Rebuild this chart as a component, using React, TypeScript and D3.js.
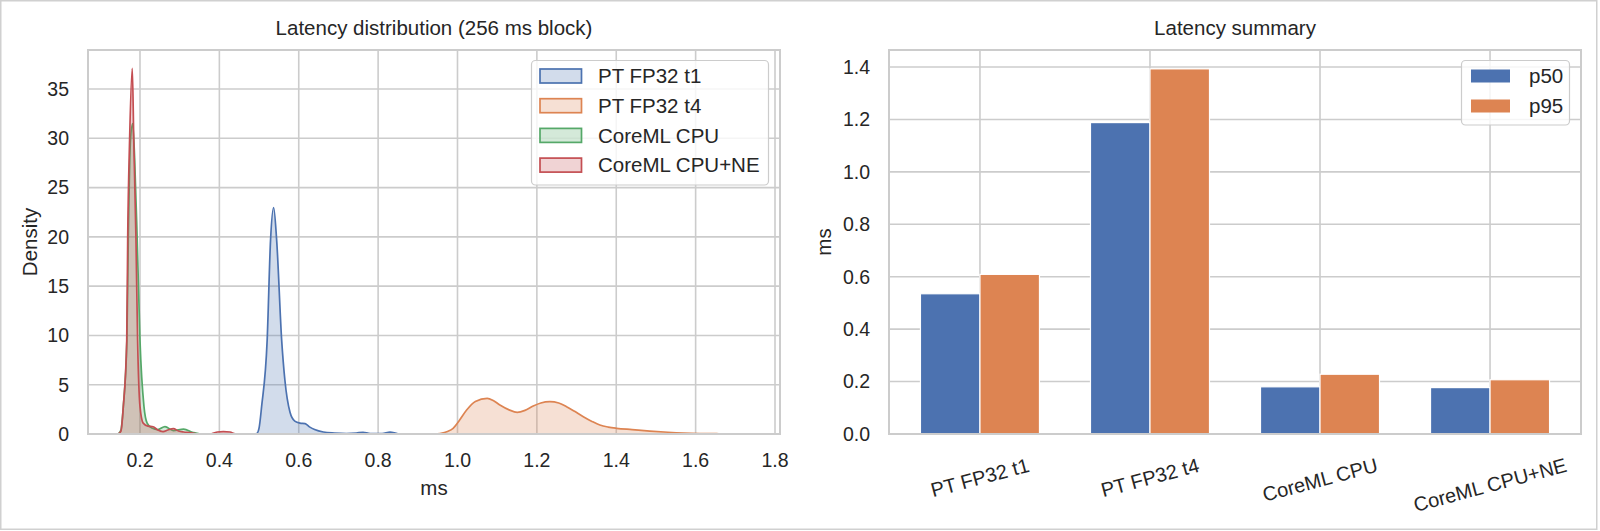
import { useEffect, useRef } from 'react';
import * as d3 from 'd3';

// Density curves: [latency ms, density]
const densityT1: [number, number][] = [
  [0.485, 0], [0.494, 0.05], [0.5, 0.6], [0.5065, 2.8], [0.5204, 9.5], [0.529, 19.7], [0.5367, 22.96],
  [0.5443, 19.7], [0.557, 9.5], [0.565, 5.5], [0.578, 2.2], [0.59, 1.3], [0.603, 1.1], [0.616, 1.05],
  [0.628, 0.7], [0.64, 0.45], [0.662, 0.2], [0.69, 0.1], [0.72, 0.05], [0.745, 0.1], [0.762, 0.18],
  [0.78, 0.05], [0.81, 0.05], [0.83, 0.2], [0.85, 0.02], [0.87, 0],
];
const densityT4: [number, number][] = [
  [0.94, 0], [0.9557, 0.05], [0.975, 0.25], [0.989, 0.58], [1.005, 1.4], [1.023, 2.43], [1.045, 3.3],
  [1.0749, 3.62], [1.09, 3.4], [1.1068, 2.94], [1.13, 2.45], [1.1505, 2.2], [1.17, 2.4], [1.1907, 2.84],
  [1.21, 3.15], [1.2327, 3.28], [1.255, 3.15], [1.2748, 2.77], [1.295, 2.3], [1.317, 1.76], [1.34, 1.25],
  [1.3587, 0.91], [1.38, 0.7], [1.4008, 0.58], [1.44, 0.45], [1.4846, 0.3], [1.53, 0.18], [1.569, 0.1],
  [1.61, 0.05], [1.653, 0.03], [1.7, 0.01], [1.75, 0],
];
const densityCpu: [number, number][] = [
  [0.145, 0], [0.152, 0.4], [0.158, 2.8], [0.167, 9.5], [0.1705, 19.7], [0.176, 29.8], [0.1816, 31.5],
  [0.1865, 28], [0.193, 19.7], [0.2, 9.5], [0.21, 2.8], [0.218, 1.1], [0.23, 0.6], [0.245, 0.45],
  [0.263, 0.75], [0.284, 0.35], [0.31, 0.5], [0.334, 0.15], [0.35, 0.02], [0.37, 0],
];
const densityCpuNe: [number, number][] = [
  [0.145, 0], [0.152, 0.3], [0.158, 2.8], [0.1666, 9.5], [0.169, 19.7], [0.1738, 29.8], [0.1806, 37.1],
  [0.1843, 29.8], [0.1899, 19.7], [0.194, 9.5], [0.2, 2.8], [0.208, 1.1], [0.22, 0.8], [0.233, 0.74],
  [0.245, 0.4], [0.258, 0.25], [0.27, 0.4], [0.284, 0.55], [0.297, 0.3], [0.31, 0.2], [0.325, 0.15],
  [0.343, 0.02], [0.36, 0], [0.38, 0.02], [0.395, 0.2], [0.41, 0.25], [0.427, 0.2], [0.44, 0.02], [0.46, 0],
];

const seriesNames = ['PT FP32 t1', 'PT FP32 t4', 'CoreML CPU', 'CoreML CPU+NE'];
const seriesColors = ['#4C72B0', '#DD8452', '#55A868', '#C44E52'];

// Summary bars
const categories = ['PT FP32 t1', 'PT FP32 t4', 'CoreML CPU', 'CoreML CPU+NE'];
const p50 = [0.535, 1.188, 0.18, 0.177];
const p95 = [0.609, 1.393, 0.228, 0.207];

const densityTicks = [0, 5, 10, 15, 20, 25, 30, 35];
const msTicks = [0.2, 0.4, 0.6, 0.8, 1.0, 1.2, 1.4, 1.6, 1.8];
const summaryTicks = [0, 0.2, 0.4, 0.6, 0.8, 1.0, 1.2, 1.4];

const App = () => {
  const svgRef = useRef<SVGSVGElement | null>(null);

  useEffect(() => {
    const width = 1600;
    const height = 531;
    const top = 50;
    const bottom = 434;
    const grid = '#cccccc';
    const ink = '#262626';
    const font = "'Liberation Sans', Arial, sans-serif";
    const tickSize = 19.5;
    const labelSize = 20.5;

    const svg = d3.select(svgRef.current)
      .attr('width', width)
      .attr('height', height)
      .style('font-family', font);
    svg.selectAll('*').remove();

    svg.append('rect').attr('width', width).attr('height', height).attr('fill', '#fff');
    svg.append('rect')
      .attr('x', 0.75).attr('y', 0.75).attr('width', 1596).attr('height', 528.5)
      .attr('fill', 'none').attr('stroke', '#d0d0d0').attr('stroke-width', 1.5);

    // ---------- left: KDE ----------
    const x = d3.scaleLinear().domain([0.069, 1.8126]).range([88, 780]);
    const y = d3.scaleLinear().domain([0, 38.96]).range([bottom, top]);
    const left = svg.append('g');

    left.selectAll('.vgrid').data(msTicks).join('line')
      .attr('x1', d => x(d)).attr('x2', d => x(d)).attr('y1', top).attr('y2', bottom)
      .attr('stroke', grid).attr('stroke-width', 1.6);
    left.selectAll('.hgrid').data(densityTicks).join('line')
      .attr('x1', 88).attr('x2', 780).attr('y1', d => y(d)).attr('y2', d => y(d))
      .attr('stroke', grid).attr('stroke-width', 1.6);

    const area = d3.area<[number, number]>()
      .x(d => x(d[0])).y0(y(0)).y1(d => y(d[1])).curve(d3.curveMonotoneX);
    const line = d3.line<[number, number]>()
      .x(d => x(d[0])).y(d => y(d[1])).curve(d3.curveMonotoneX);

    [densityT1, densityT4, densityCpu, densityCpuNe].forEach((s, i) => {
      left.append('path').attr('d', area(s)).attr('fill', seriesColors[i]).attr('fill-opacity', 0.25);
      left.append('path').attr('d', line(s)).attr('fill', 'none')
        .attr('stroke', seriesColors[i]).attr('stroke-width', 1.7);
    });

    left.append('rect').attr('x', 88).attr('y', top).attr('width', 692).attr('height', bottom - top)
      .attr('fill', 'none').attr('stroke', grid).attr('stroke-width', 2);

    left.selectAll('.xt').data(msTicks).join('text')
      .attr('x', d => x(d)).attr('y', 467).attr('text-anchor', 'middle')
      .attr('font-size', tickSize).attr('fill', ink).text(d => d.toFixed(1));
    left.selectAll('.yt').data(densityTicks).join('text')
      .attr('x', 69).attr('y', d => y(d)).attr('dy', '0.35em').attr('text-anchor', 'end')
      .attr('font-size', tickSize).attr('fill', ink).text(d => d);

    left.append('text').attr('x', 434).attr('y', 35).attr('text-anchor', 'middle')
      .attr('font-size', labelSize).attr('fill', ink).text('Latency distribution (256 ms block)');
    left.append('text').attr('x', 434).attr('y', 495).attr('text-anchor', 'middle')
      .attr('font-size', labelSize).attr('fill', ink).text('ms');
    left.append('text').attr('transform', 'translate(30,242) rotate(-90)').attr('dy', '0.35em')
      .attr('text-anchor', 'middle').attr('font-size', labelSize).attr('fill', ink).text('Density');

    // legend
    const lg = left.append('g');
    lg.append('rect').attr('x', 531.5).attr('y', 60.5).attr('width', 237).attr('height', 124.5).attr('rx', 4)
      .attr('fill', '#fff').attr('fill-opacity', 0.8).attr('stroke', grid).attr('stroke-width', 1.2);
    seriesNames.forEach((name, i) => {
      const cy = 76 + i * 29.7;
      lg.append('rect').attr('x', 540).attr('y', cy - 7).attr('width', 41.5).attr('height', 14)
        .attr('fill', seriesColors[i]).attr('fill-opacity', 0.25)
        .attr('stroke', seriesColors[i]).attr('stroke-width', 1.7);
      lg.append('text').attr('x', 598).attr('y', cy).attr('dy', '0.35em')
        .attr('font-size', labelSize).attr('fill', ink).text(name);
    });

    // ---------- right: bars ----------
    const bx = d3.scaleLinear().domain([-0.535, 3.535]).range([889, 1581]);
    const by = d3.scaleLinear().domain([0, 1.4649]).range([bottom, top]);
    const barW = 0.35;
    const right = svg.append('g');

    right.selectAll('.vgrid').data(categories).join('line')
      .attr('x1', (_, i) => bx(i)).attr('x2', (_, i) => bx(i)).attr('y1', top).attr('y2', bottom)
      .attr('stroke', grid).attr('stroke-width', 1.6);
    right.selectAll('.hgrid').data(summaryTicks).join('line')
      .attr('x1', 889).attr('x2', 1581).attr('y1', d => by(d)).attr('y2', d => by(d))
      .attr('stroke', grid).attr('stroke-width', 1.6);

    [p50, p95].forEach((vals, s) => {
      right.selectAll(`.bar${s}`).data(vals).join('rect')
        .attr('x', (_, i) => bx(i - barW + s * barW))
        .attr('width', bx(barW) - bx(0))
        .attr('y', d => by(d))
        .attr('height', d => by(0) - by(d))
        .attr('fill', seriesColors[s])
        .attr('stroke', '#fff').attr('stroke-width', 1.2);
    });

    right.append('rect').attr('x', 889).attr('y', top).attr('width', 692).attr('height', bottom - top)
      .attr('fill', 'none').attr('stroke', grid).attr('stroke-width', 2);

    right.selectAll('.yt').data(summaryTicks).join('text')
      .attr('x', 870).attr('y', d => by(d)).attr('dy', '0.35em').attr('text-anchor', 'end')
      .attr('font-size', tickSize).attr('fill', ink).text(d => d.toFixed(1));

    const sin15 = Math.sin(Math.PI / 12);
    categories.forEach((c, i) => {
      const t = right.append('text').attr('text-anchor', 'middle').attr('dy', '0.35em')
        .attr('font-size', 20).attr('fill', ink).text(c);
      const len = (t.node() as SVGTextElement).getComputedTextLength();
      const cy = 458 + (len * sin15 + 13) / 2;
      t.attr('transform', `translate(${bx(i)},${cy}) rotate(-15)`);
    });

    right.append('text').attr('x', 1235).attr('y', 35).attr('text-anchor', 'middle')
      .attr('font-size', labelSize).attr('fill', ink).text('Latency summary');
    right.append('text').attr('transform', 'translate(824,242) rotate(-90)').attr('dy', '0.35em')
      .attr('text-anchor', 'middle').attr('font-size', labelSize).attr('fill', ink).text('ms');

    const rl = right.append('g');
    rl.append('rect').attr('x', 1461.5).attr('y', 60.5).attr('width', 108).attr('height', 64.5).attr('rx', 4)
      .attr('fill', '#fff').attr('fill-opacity', 0.8).attr('stroke', grid).attr('stroke-width', 1.2);
    ['p50', 'p95'].forEach((name, i) => {
      const cy = 76 + i * 30;
      rl.append('rect').attr('x', 1471).attr('y', cy - 6.5).attr('width', 39).attr('height', 13)
        .attr('fill', seriesColors[i]);
      rl.append('text').attr('x', 1529).attr('y', cy).attr('dy', '0.35em')
        .attr('font-size', labelSize).attr('fill', ink).text(name);
    });
  }, []);

  return (
    <div>
      <svg ref={svgRef} style={{ position: 'absolute', left: 0, top: 0 }}></svg>
    </div>
  );
};

export default App;
